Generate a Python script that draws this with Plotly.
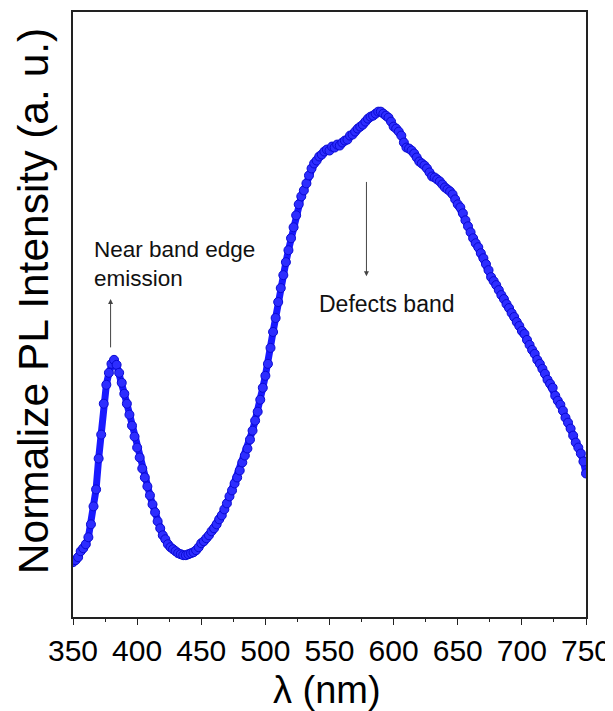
import plotly.graph_objects as go

# Wavelength (nm) and PL intensity (a.u.)
wavelength = list(range(350, 751, 2))
intensity = [
    55, 57, 60, 66, 69, 73, 80, 93, 111, 128,
    159, 183, 214, 233, 245, 254, 258, 253, 245, 235,
    224, 214, 203, 192, 181, 170, 160, 149, 140, 131,
    122, 113, 105, 96, 89, 82, 78, 73, 70, 68,
    66, 64, 63, 62, 62, 63, 64, 65, 67, 70,
    74, 76, 79, 82, 86, 89, 93, 98, 102, 108,
    114, 121, 127, 134, 140, 147, 155, 162, 169, 178,
    187, 197, 206, 218, 230, 242, 254, 270, 286, 300,
    316, 330, 343, 356, 368, 380, 391, 403, 414, 422,
    428, 435, 443, 450, 455, 458, 462, 464, 467, 469,
    468, 472, 471, 474, 473, 476, 478, 479, 483, 484,
    487, 490, 492, 494, 497, 500, 502, 503, 505, 507,
    507, 505, 503, 501, 497, 492, 490, 487, 483, 476,
    471, 470, 468, 465, 461, 457, 455, 453, 450, 446,
    442, 441, 439, 437, 434, 431, 429, 427, 424, 419,
    414, 411, 405, 398, 392, 386, 380, 375, 371, 365,
    360, 354, 348, 341, 337, 333, 328, 323, 319, 314,
    310, 305, 301, 296, 292, 287, 284, 278, 273, 268,
    264, 258, 254, 249, 244, 238, 234, 230, 222, 217,
    213, 207, 200, 195, 189, 182, 175, 170, 164, 156,
    144,
]

x_ticks = [350, 400, 450, 500, 550, 600, 650, 700, 750]

FONT = "Arial, Liberation Sans, sans-serif"
BLUE = "rgb(25,25,255)"

fig = go.Figure()
fig.add_trace(go.Scatter(
    x=wavelength, y=intensity, mode="lines",
    line=dict(color=BLUE, width=7), hoverinfo="skip", showlegend=False,
))
fig.add_trace(go.Scatter(
    x=wavelength, y=intensity, mode="markers",
    marker=dict(symbol="circle", size=9, color="rgb(45,45,255)",
                line=dict(color="rgb(10,10,210)", width=1)),
    showlegend=False,
))

# page body adds an 8px offset; figure sized so the plot area lands where the reference has it
fig.update_layout(
    width=605, height=703,
    margin=dict(l=65, r=26, t=2, b=94),
    paper_bgcolor="white", plot_bgcolor="white",
    font=dict(family=FONT, color="black"),
    xaxis=dict(
        range=[350, 750], tickvals=x_ticks, ticks="outside", ticklen=6,
        tickwidth=1.3, tickcolor="#222", showline=True, linecolor="#222",
        linewidth=1.5, mirror=True, showgrid=False, zeroline=False,
        tickfont=dict(size=30, family=FONT, color="black"),
        minor=dict(dtick=25, ticks="outside", ticklen=3, tickcolor="#222"),
    ),
    yaxis=dict(
        range=[0, 607], showticklabels=False, ticks="", showline=True,
        linecolor="#222", linewidth=1.5, mirror=True, showgrid=False,
        zeroline=False,
    ),
)

annotations = [
    dict(text="λ (nm)", xref="paper", yref="paper", x=0.496, y=-0.120,
         xanchor="center", yanchor="middle", showarrow=False,
         font=dict(size=38, family=FONT, color="black")),
    dict(text="Normalize PL Intensity (a. u.)", xref="paper", yref="paper",
         x=-0.078, y=0.522, xanchor="center", yanchor="middle",
         textangle=-90, showarrow=False,
         font=dict(size=42.5, family=FONT, color="black")),
    dict(text="Near band edge<br>emission", xref="x", yref="y",
         x=364.8, y=354, xanchor="left", yanchor="middle", align="left",
         showarrow=False, font=dict(size=22.5, family=FONT, color="#111")),
    dict(text="Defects band", xref="x", yref="y", x=539.9, y=314,
         xanchor="left", yanchor="middle", showarrow=False,
         font=dict(size=23, family=FONT, color="#111")),
    dict(text="", xref="x", yref="y", x=379.3, y=319, axref="x", ayref="y",
         ax=379.3, ay=269, showarrow=True, arrowhead=2, arrowsize=1,
         arrowwidth=1, arrowcolor="#444"),
    dict(text="", xref="x", yref="y", x=578.8, y=342, axref="x", ayref="y",
         ax=578.8, ay=438, showarrow=True, arrowhead=2, arrowsize=1,
         arrowwidth=1, arrowcolor="#444"),
]
fig.update_layout(annotations=annotations)

fig.write_html("out.html")
